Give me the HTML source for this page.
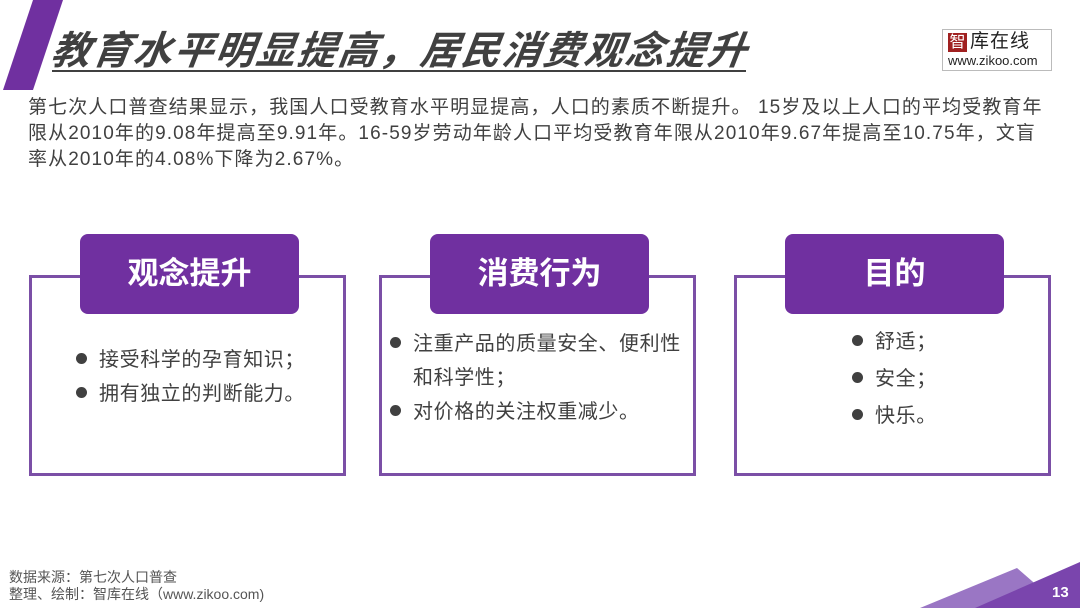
<!DOCTYPE html>
<html><head><meta charset="utf-8"><style>
*{margin:0;padding:0;box-sizing:border-box}
body{width:1080px;height:608px;overflow:hidden;background:#fff;position:relative;font-family:"Liberation Sans","Noto Sans CJK SC",sans-serif;color:#404040}
.abs{position:absolute}
.title{left:52px;top:20px;font-size:39px;font-weight:bold;font-style:italic;color:#404040;letter-spacing:2px;white-space:nowrap;transform:skewX(-8deg)}
.uline{left:52px;top:70px;width:694px;height:2px;background:#404040}
.body{left:28px;top:95px;width:1026px;font-size:19px;letter-spacing:1.1px;line-height:26px;color:#404040;white-space:nowrap}
.box{border:3px solid #7b4fa6}
.hdr{background:#7030a0;border-radius:8px;color:#fff;font-weight:bold;font-size:31px;text-align:center;line-height:80px}
.li{font-size:20px;letter-spacing:0.6px;color:#404040;white-space:nowrap;line-height:34px}
.li b{display:inline-block;width:11px;height:11px;border-radius:50%;background:#404040;margin-right:12px;vertical-align:2px}
.src{left:9px;top:569px;font-size:14px;line-height:17px;color:#555}
</style></head><body>
<svg class="abs" style="left:0;top:0" width="80" height="92"><polygon points="33,0 63,0 33,90 3,90" fill="#7030a0"/></svg>
<div class="abs title">教育水平明显提高，居民消费观念提升</div>
<div class="abs uline"></div>
<div class="abs" style="left:942px;top:29px;width:110px;height:42px;border:1px solid #bbb;background:#fff">
<div class="abs" style="left:5px;top:3px;width:19px;height:19px;background:#a02020;color:#fff;font-size:16px;line-height:19px;text-align:center">智</div>
<div class="abs" style="left:27px;top:1px;font-size:19px;color:#222;line-height:22px;letter-spacing:1px">库在线</div>
<div class="abs" style="left:5px;top:23px;font-size:13px;color:#222;line-height:16px">www.zikoo.com</div>
</div>
<div class="abs body">第七次人口普查结果显示，我国人口受教育水平明显提高，人口的素质不断提升。 15岁及以上人口的平均受教育年<br>限从2010年的9.08年提高至9.91年。16-59岁劳动年龄人口平均受教育年限从2010年9.67年提高至10.75年，文盲<br>率从2010年的4.08%下降为2.67%。</div>

<div class="abs box" style="left:29px;top:275px;width:317px;height:201px"></div>
<div class="abs hdr" style="left:80px;top:234px;width:219px;height:80px">观念提升</div>
<div class="abs li" style="left:76px;top:343px"><b></b>接受科学的孕育知识；<br><b></b>拥有独立的判断能力。</div>

<div class="abs box" style="left:379px;top:275px;width:317px;height:201px"></div>
<div class="abs hdr" style="left:430px;top:234px;width:219px;height:80px">消费行为</div>
<div class="abs li" style="left:390px;top:327px"><b></b>注重产品的质量安全、便利性<br><span style="padding-left:23px">和科学性；</span><br><b></b>对价格的关注权重减少。</div>

<div class="abs box" style="left:734px;top:275px;width:317px;height:201px"></div>
<div class="abs hdr" style="left:785px;top:234px;width:219px;height:80px">目的</div>
<div class="abs li" style="left:852px;top:324px;line-height:37px"><b></b>舒适；<br><b></b>安全；<br><b></b>快乐。</div>

<div class="abs src">数据来源：第七次人口普查<br>整理、绘制：智库在线（www.zikoo.com)</div>
<svg class="abs" style="left:0;top:0" width="1080" height="608"><polygon points="920,608 1017,568 1040,588 1000,608" fill="#9a76c4"/><polygon points="975,608 1080,562 1080,608" fill="#7a45ad"/></svg>
<div class="abs" style="left:1052px;top:584px;color:#fff;font-size:15px;font-weight:bold">13</div>
</body></html>
